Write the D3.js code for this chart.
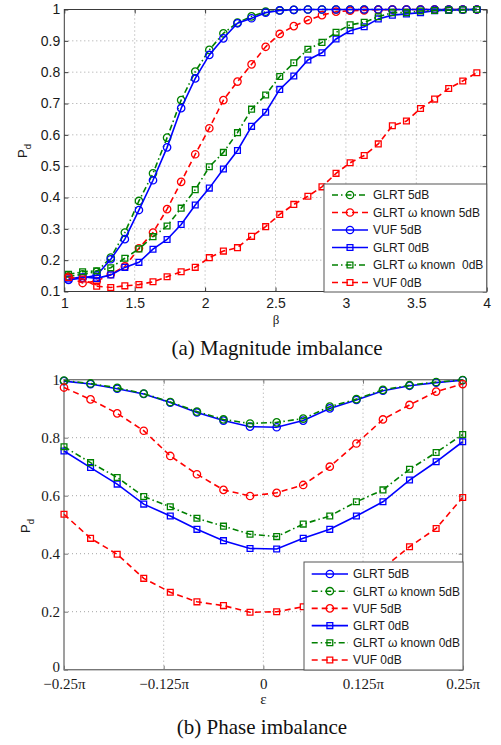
<!DOCTYPE html>
<html>
<head>
<meta charset="utf-8">
<script src="https://cdn.jsdelivr.net/npm/d3@7"></script>
<style>
  html, body { margin: 0; padding: 0; background: #fff; }
  svg { display: block; }
  text { white-space: pre; }
</style>
</head>
<body>
<svg id="fig" width="501" height="745"></svg>
<script>
// ---------- (a) Magnitude imbalance: detection probability vs. beta ----------
const betaValues = [1.03, 1.13, 1.23, 1.33, 1.43, 1.53, 1.63, 1.73, 1.83, 1.93,
                    2.03, 2.13, 2.23, 2.33, 2.43, 2.53, 2.63, 2.73, 2.83, 2.93,
                    3.03, 3.13, 3.23, 3.33, 3.43, 3.53, 3.63, 3.73, 3.83, 3.93];
const magGlrt5  = [0.148, 0.155, 0.163, 0.208, 0.288, 0.389, 0.477, 0.591, 0.711, 0.802,
                   0.871, 0.924, 0.958, 0.978, 0.993, 0.997, 0.999, 1, 1, 1,
                   1, 1, 1, 1, 1, 1, 1, 1, 1, 1];
const magOmega5 = [0.147, 0.127, 0.133, 0.155, 0.180, 0.238, 0.288, 0.363, 0.450, 0.538,
                   0.621, 0.711, 0.770, 0.825, 0.881, 0.922, 0.947, 0.966, 0.982, 0.993,
                   0.996, 0.997, 0.999, 1, 1, 1, 1, 1, 1, 1];
const magVuf5   = [0.137, 0.143, 0.152, 0.203, 0.267, 0.360, 0.455, 0.560, 0.685, 0.780,
                   0.855, 0.908, 0.956, 0.972, 0.990, 0.997, 0.999, 1, 1, 1,
                   1, 1, 1, 1, 1, 1, 1, 1, 1, 1];
const magGlrt0  = [0.140, 0.147, 0.142, 0.153, 0.177, 0.193, 0.235, 0.266, 0.314, 0.376,
                   0.430, 0.491, 0.550, 0.627, 0.672, 0.745, 0.788, 0.839, 0.862, 0.906,
                   0.932, 0.945, 0.970, 0.982, 0.986, 0.990, 0.996, 0.998, 0.999, 1];
const magOmega0 = [0.155, 0.163, 0.166, 0.176, 0.206, 0.236, 0.275, 0.309, 0.366, 0.425,
                   0.498, 0.544, 0.607, 0.682, 0.727, 0.786, 0.830, 0.873, 0.895, 0.927,
                   0.951, 0.959, 0.977, 0.990, 0.990, 0.995, 0.997, 0.998, 0.999, 1];
const magVuf0   = [0.145, 0.140, 0.117, 0.113, 0.118, 0.122, 0.131, 0.147, 0.163, 0.177,
                   0.208, 0.229, 0.240, 0.276, 0.307, 0.346, 0.378, 0.404, 0.434, 0.477,
                   0.511, 0.534, 0.571, 0.629, 0.644, 0.684, 0.714, 0.748, 0.772, 0.798];
const magXTicks = [1, 1.5, 2, 2.5, 3, 3.5, 4];
const magXTickLabels = ["1", "1.5", "2", "2.5", "3", "3.5", "4"];
const magYTicks = [0.1, 0.2, 0.3, 0.4, 0.5, 0.6, 0.7, 0.8, 0.9, 1];
const magYTickLabels = ["0.1", "0.2", "0.3", "0.4", "0.5", "0.6", "0.7", "0.8", "0.9", "1"];

// ---------- (b) Phase imbalance: detection probability vs. epsilon (units of pi) ----------
const epsValues = [-0.25, -0.2167, -0.1833, -0.15, -0.1167, -0.0833, -0.05, -0.0167,
                   0.0167, 0.05, 0.0833, 0.1167, 0.15, 0.1833, 0.2167, 0.25];
const phaseGlrt5  = [0.995, 0.985, 0.969, 0.951, 0.921, 0.887, 0.859, 0.838,
                     0.836, 0.859, 0.901, 0.930, 0.962, 0.979, 0.990, 0.998];
const phaseOmega5 = [0.997, 0.987, 0.972, 0.952, 0.923, 0.890, 0.863, 0.849,
                     0.853, 0.866, 0.907, 0.933, 0.965, 0.981, 0.992, 0.999];
const phaseVuf5   = [0.973, 0.932, 0.884, 0.824, 0.737, 0.674, 0.620, 0.599,
                     0.610, 0.637, 0.700, 0.780, 0.863, 0.913, 0.959, 0.985];
const phaseGlrt0  = [0.754, 0.697, 0.640, 0.571, 0.530, 0.484, 0.445, 0.418,
                     0.416, 0.453, 0.484, 0.530, 0.579, 0.654, 0.717, 0.786];
const phaseOmega0 = [0.769, 0.714, 0.663, 0.597, 0.562, 0.522, 0.495, 0.467,
                     0.459, 0.502, 0.530, 0.579, 0.620, 0.691, 0.749, 0.811];
const phaseVuf0   = [0.536, 0.453, 0.398, 0.315, 0.267, 0.234, 0.221, 0.198,
                     0.200, 0.217, 0.245, 0.290, 0.350, 0.424, 0.487, 0.594];
const phaseXTicks = [-0.25, -0.125, 0, 0.125, 0.25];
const phaseXTickLabels = ["\u22120.25\u03c0", "\u22120.125\u03c0", "0", "0.125\u03c0", "0.25\u03c0"];
const phaseYTicks = [0, 0.2, 0.4, 0.6, 0.8, 1];
const phaseYTickLabels = ["0", "0.2", "0.4", "0.6", "0.8", "1"];

// ---------- styling ----------
const BLUE = "#0000ff", GREEN = "#008000", RED = "#ff0000";
const DASH = { solid: null, dashed: "6,4", dashdot: "6,3,1.5,3" };
const SANS = "'Liberation Sans', Arial, Helvetica, sans-serif";
const SERIF = "'Liberation Serif', 'Times New Roman', serif";

const magSeries = [
  { label: "GLRT 5dB",            values: magGlrt5,  color: GREEN, dash: "dashdot", marker: "circle" },
  { label: "GLRT \u03c9 known 5dB", values: magOmega5, color: RED,   dash: "dashed",  marker: "circle" },
  { label: "VUF 5dB",             values: magVuf5,   color: BLUE,  dash: "solid",   marker: "circle" },
  { label: "GLRT 0dB",            values: magGlrt0,  color: BLUE,  dash: "solid",   marker: "square" },
  { label: "GLRT \u03c9 known  0dB", values: magOmega0, color: GREEN, dash: "dashdot", marker: "square" },
  { label: "VUF 0dB",             values: magVuf0,   color: RED,   dash: "dashed",  marker: "square" }
];
const phaseSeries = [
  { label: "GLRT 5dB",            values: phaseGlrt5,  color: BLUE,  dash: "solid",   marker: "circle" },
  { label: "GLRT \u03c9 known 5dB", values: phaseOmega5, color: GREEN, dash: "dashdot", marker: "circle" },
  { label: "VUF 5dB",             values: phaseVuf5,   color: RED,   dash: "dashed",  marker: "circle" },
  { label: "GLRT 0dB",            values: phaseGlrt0,  color: BLUE,  dash: "solid",   marker: "square" },
  { label: "GLRT \u03c9 known 0dB", values: phaseOmega0, color: GREEN, dash: "dashdot", marker: "square" },
  { label: "VUF 0dB",             values: phaseVuf0,   color: RED,   dash: "dashed",  marker: "square" }
];

const svg = d3.select("#fig");

const circleSym = d3.symbol().type(d3.symbolCircle).size(Math.PI * 3.7 * 3.7);
const squareSym = d3.symbol().type(d3.symbolSquare).size(5.8 * 5.8);

function drawMarker(g, x, y, s) {
  g.append("path")
    .attr("d", s.marker === "circle" ? circleSym() : squareSym())
    .attr("transform", `translate(${x},${y})`)
    .attr("fill", "none")
    .attr("stroke", s.color)
    .attr("stroke-width", 1.3);
}

function drawPanel(cfg) {
  const { x, y, xs, series, xTicks, xTickLabels, yTicks, yTickLabels,
          frameColor, frameWidth, tickFont, tickSize, xLabelPad } = cfg;
  const g = svg.append("g");
  const [x0, x1] = x.range();
  const [y0, y1] = y.range(); // y0 bottom, y1 top

  // dotted grid
  const grid = g.append("g").attr("stroke", "#9a9a9a").attr("stroke-width", 0.9)
    .attr("stroke-dasharray", "1,3");
  xTicks.slice(1, -1).forEach(t => grid.append("line")
    .attr("x1", x(t)).attr("x2", x(t)).attr("y1", y0).attr("y2", y1));
  yTicks.slice(1, -1).forEach(t => grid.append("line")
    .attr("x1", x0).attr("x2", x1).attr("y1", y(t)).attr("y2", y(t)));

  // axes with inward ticks on all four sides
  const fmtX = (d, i) => xTickLabels[i];
  const fmtY = (d, i) => yTickLabels[i];
  const bottom = g.append("g").attr("transform", `translate(0,${y0})`)
    .call(d3.axisBottom(x).tickValues(xTicks).tickFormat(fmtX)
      .tickSizeInner(-4).tickSizeOuter(0).tickPadding(xLabelPad));
  const top = g.append("g").attr("transform", `translate(0,${y1})`)
    .call(d3.axisTop(x).tickValues(xTicks).tickFormat("").tickSizeInner(-4).tickSizeOuter(0));
  const left = g.append("g").attr("transform", `translate(${x0},0)`)
    .call(d3.axisLeft(y).tickValues(yTicks).tickFormat(fmtY)
      .tickSizeInner(-4).tickSizeOuter(0).tickPadding(4));
  const right = g.append("g").attr("transform", `translate(${x1},0)`)
    .call(d3.axisRight(y).tickValues(yTicks).tickFormat("").tickSizeInner(-4).tickSizeOuter(0));
  [bottom, top, left, right].forEach(a => {
    a.select(".domain").remove();
    a.selectAll("line").attr("stroke", frameColor).attr("stroke-width", 1);
    a.selectAll("text").attr("font-family", tickFont).attr("font-size", tickSize)
      .attr("fill", "#1a1a1a");
  });

  // frame
  g.append("rect").attr("x", x0).attr("y", y1).attr("width", x1 - x0).attr("height", y0 - y1)
    .attr("fill", "none").attr("stroke", frameColor).attr("stroke-width", frameWidth);

  // series lines and markers
  const line = d3.line().x(d => x(d[0])).y(d => y(d[1]));
  series.forEach(s => {
    const pts = xs.map((xv, i) => [xv, s.values[i]]);
    g.append("path").attr("d", line(pts)).attr("fill", "none")
      .attr("stroke", s.color).attr("stroke-width", 1.6)
      .attr("stroke-dasharray", DASH[s.dash]);
    const mg = g.append("g");
    pts.forEach(p => drawMarker(mg, x(p[0]), y(p[1]), s));
  });
  return { g, left };
}

function drawLegend(g, series, box, rows, sample) {
  g.append("rect").attr("x", box.x).attr("y", box.y).attr("width", box.w).attr("height", box.h)
    .attr("fill", "#fff").attr("stroke", "#555").attr("stroke-width", 1);
  series.forEach((s, i) => {
    const ry = rows.y0 + i * rows.dy;
    g.append("line").attr("x1", sample.x0).attr("x2", sample.x1).attr("y1", ry).attr("y2", ry)
      .attr("stroke", s.color).attr("stroke-width", 1.6).attr("stroke-dasharray", DASH[s.dash]);
    drawMarker(g, (sample.x0 + sample.x1) / 2, ry, s);
    g.append("text").attr("x", sample.x1 + 5).attr("y", ry + 4.3)
      .attr("font-family", SANS).attr("font-size", 12).attr("fill", "#1a1a1a")
      .text(s.label);
  });
}

// ---------- panel (a) ----------
const xMag = d3.scaleLinear().domain([1, 4]).range([64.3, 486.7]);
const yMag = d3.scaleLinear().domain([0.1, 1]).range([291.5, 9.5]);
const panelA = drawPanel({
  x: xMag, y: yMag, xs: betaValues, series: magSeries,
  xTicks: magXTicks, xTickLabels: magXTickLabels, yTicks: magYTicks, yTickLabels: magYTickLabels,
  frameColor: "#3a3a3a", frameWidth: 1, tickFont: SANS, tickSize: 14, xLabelPad: 7
});
drawLegend(panelA.g, magSeries, { x: 324, y: 184, w: 162.7, h: 108 },
  { y0: 195, dy: 17.5 }, { x0: 332, x1: 368 });

// y label P_d
svg.append("text").attr("transform", "translate(27,151) rotate(-90)")
  .attr("text-anchor", "middle").attr("font-family", SANS).attr("font-size", 13).attr("fill", "#1a1a1a")
  .call(t => { t.append("tspan").text("P"); t.append("tspan").attr("dy", 4).attr("font-size", 9.5).text("d"); });
svg.append("text").attr("x", 276).attr("y", 324).attr("text-anchor", "middle")
  .attr("font-family", SERIF).attr("font-size", 13).attr("fill", "#1a1a1a").text("\u03b2");
svg.append("text").attr("x", 277).attr("y", 355).attr("text-anchor", "middle")
  .attr("font-family", SERIF).attr("font-size", 21).attr("fill", "#111").text("(a) Magnitude imbalance");

// ---------- panel (b) ----------
const xPh = d3.scaleLinear().domain([-0.25, 0.25]).range([64, 462.7]);
const yPh = d3.scaleLinear().domain([0, 1]).range([669.7, 379.7]);
const panelB = drawPanel({
  x: xPh, y: yPh, xs: epsValues, series: phaseSeries,
  xTicks: phaseXTicks, xTickLabels: phaseXTickLabels, yTicks: phaseYTicks, yTickLabels: phaseYTickLabels,
  frameColor: "#777", frameWidth: 1.4, tickFont: SERIF, tickSize: 15, xLabelPad: 9
});
// the lowest y label sits just above the corner so it clears the first x label
panelB.left.selectAll(".tick text").filter((d, i) => i === 0).attr("dy", "0.1em");
drawLegend(panelB.g, phaseSeries, { x: 304, y: 562, w: 159, h: 108 },
  { y0: 574, dy: 17.2 }, { x0: 311.7, x1: 348 });

svg.append("text").attr("transform", "translate(30,526) rotate(-90)")
  .attr("text-anchor", "middle").attr("font-family", SANS).attr("font-size", 13).attr("fill", "#1a1a1a")
  .call(t => { t.append("tspan").text("P"); t.append("tspan").attr("dy", 4).attr("font-size", 9.5).text("d"); });
svg.append("text").attr("x", 263.3).attr("y", 704).attr("text-anchor", "middle")
  .attr("font-family", SERIF).attr("font-size", 15).attr("fill", "#1a1a1a").text("\u03b5");
svg.append("text").attr("x", 262).attr("y", 734).attr("text-anchor", "middle")
  .attr("font-family", SERIF).attr("font-size", 21).attr("fill", "#111").text("(b) Phase imbalance");
</script>
</body>
</html>
